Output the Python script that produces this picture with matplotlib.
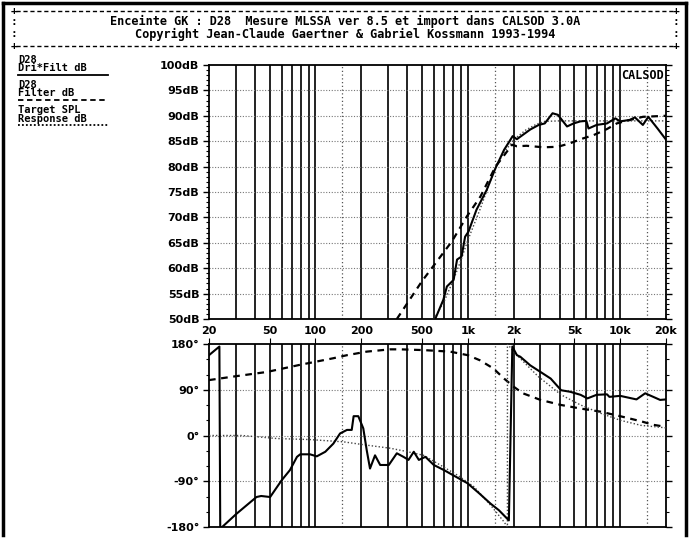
import matplotlib
matplotlib.use("Agg")
import matplotlib.pyplot as plt
from matplotlib.lines import Line2D
from matplotlib.ticker import FixedLocator, MultipleLocator, NullLocator

# --- amplitude (dB) ---
drv_freq = [611, 691, 729, 807, 850, 910, 960, 1010, 1140, 1330, 1520, 1730, 1870,
            1970, 2100, 2570, 2920, 3200, 3600, 3900, 4480, 4950, 5480, 6000, 6200,
            7000, 8200, 9300, 10000, 11600, 12500, 13000, 14100, 15300, 17600, 20000]
drv_db = [50.0, 53.8, 56.4, 57.7, 61.7, 62.3, 66.2, 67.2, 71.5, 75.4, 79.7, 83.3, 84.9,
          86.0, 85.4, 87.3, 88.2, 88.5, 90.5, 90.2, 87.9, 88.5, 88.9, 89.0, 87.5,
          88.2, 88.5, 89.5, 88.9, 89.2, 89.7, 89.2, 88.2, 89.8, 87.5, 85.3]

flt_freq = [342, 499, 787, 986, 1210, 1520, 1770, 1950, 2100, 2430, 3140, 3900, 4700,
            5500, 6700, 8200, 9500, 11000, 14100, 20000]
flt_db = [50.0, 57.4, 65.3, 70.2, 74.1, 80.0, 82.6, 84.3, 84.0, 84.1, 83.8, 83.9, 84.6,
          85.4, 86.2, 87.4, 88.5, 89.0, 89.8, 90.0]

tgt_freq = [600, 700, 800, 900, 1000, 1200, 1500, 1700, 2000, 2400, 2800, 3200, 4000, 20000]
tgt_db = [50.0, 53.5, 57.5, 61.5, 65.5, 71.5, 79.5, 82.5, 85.3, 87.2, 88.3, 88.9, 89.0, 89.0]

# --- phase (deg) ---
drv_ph_freq = [20, 23.4, 23.7, 24.4, 30.3, 41, 44, 50.4, 60, 68, 75.6, 79.4, 92, 102, 116,
               131, 145, 161, 173, 178, 191, 206, 217, 228, 246, 266, 303, 342, 378, 408,
               442, 477, 527, 598, 697, 833, 996, 1190, 1410, 1600, 1860, 1960, 2100,
               2210, 2570, 3000, 3500, 4100, 4700, 5500, 6100, 7000, 8200, 8500, 10000,
               12800, 14600, 16500, 18300, 20000]
drv_ph = [158, 175, -180, -180, -154, -121, -119, -121, -88, -68, -42, -37, -37, -41, -32,
          -16, 4, 11, 11, 38, 38, 14, -29, -65, -39, -58, -58, -35, -42, -48,
          -32, -48, -42, -58, -68, -81, -94, -114, -134, -147, -167, 175, 158,
          155, 138, 125, 112, 89, 86, 80, 73, 80, 81, 76, 78,
          71, 83, 76, 70, 71]

flt_ph_freq = [20, 29, 48, 79, 131, 161, 217, 309, 359, 513, 765, 1000, 1200, 1470, 1730,
               2000, 2300, 3000, 4100, 5500, 7400, 10000, 13700, 16500, 20000]
flt_ph = [109, 116, 125, 139, 152, 158, 165, 169.5, 169.5, 168, 165, 158, 148, 132, 112,
          96, 83, 70, 60, 53, 47, 38, 28, 21, 17]

tgt_ph_freq = [20, 33, 56, 92, 153, 217, 309, 390, 513, 855, 1100, 1410, 1730, 1820, 1820,
               2000, 2200, 2900, 4100, 5500, 7400, 10000, 13700, 20000]
tgt_ph = [0, 0, -6, -8, -12.5, -19, -25, -31, -39, -78, -101, -137, -170, -180, 180,
          165, 152, 116, 80, 60, 44, 30, 20, 15]

freq_ticks = [20, 50, 100, 200, 500, 1000, 2000, 5000, 10000, 20000]
freq_labels = ["20", "50", "100", "200", "500", "1k", "2k", "5k", "10k", "20k"]
db_ticks = list(range(50, 101, 5))
ph_ticks = [-180, -90, 0, 90, 180]

W, H = 689, 538
MONO = "DejaVu Sans Mono"


def fx(x):
    return x / W


def fy(y):
    return 1 - y / H


fig = plt.figure(figsize=(W / 100, H / 100), dpi=100)
fig.patch.set_facecolor("white")

ax1 = fig.add_axes([fx(209), fy(319), 457 / W, 254 / H])
ax2 = fig.add_axes([fx(209), fy(527), 457 / W, 183 / H])

solid_grid = [m * 10 ** e for e in (1, 2, 3) for m in range(1, 10)] + [10000]
solid_grid = [f for f in solid_grid if 20 < f < 20000]
dotted_grid = [150, 1500, 15000]

for ax in (ax1, ax2):
    ax.set_xscale("log")
    ax.set_xlim(20, 20000)
    ax.xaxis.set_major_locator(FixedLocator(freq_ticks))
    ax.xaxis.set_minor_locator(NullLocator())
    for f in solid_grid:
        ax.axvline(f, color="#111111", lw=1.3, zorder=1)
    for f in dotted_grid:
        ax.axvline(f, color="#555555", lw=0.9, ls=(0, (1, 2)), zorder=1)
    for s in ax.spines.values():
        s.set_linewidth(1.3)
        s.set_color("black")

# amplitude panel
ax1.set_ylim(50, 100)
ax1.yaxis.set_major_locator(FixedLocator(db_ticks))
ax1.yaxis.set_minor_locator(MultipleLocator(1))
ax1.set_yticklabels([f"{v}dB" for v in db_ticks])
for v in db_ticks[1:-1]:
    ax1.axhline(v, color="#777777", lw=0.8, ls=(0, (1, 1.5)), zorder=1)
ax1.set_xticklabels(freq_labels)
ax1.tick_params(axis="x", length=0, pad=5)
ax1.tick_params(axis="y", which="both", direction="out", left=True, right=True, pad=3)
ax1.tick_params(axis="y", which="major", length=4, width=1)
ax1.tick_params(axis="y", which="minor", length=2.5, width=0.8)

ax1.plot(drv_freq, drv_db, color="black", lw=1.5, zorder=4)
ax1.plot(flt_freq, flt_db, color="black", lw=1.6, ls=(0, (3, 2.5)), zorder=3)
ax1.plot(tgt_freq, tgt_db, color="#444444", lw=1.0, ls=(0, (1, 1.5)), zorder=3)
ax1.text(0.995, 0.985, "CALSOD", transform=ax1.transAxes, ha="right", va="top",
         family=MONO, fontweight="bold", fontsize=8.5)

# phase panel
ax2.set_ylim(-180, 180)
ax2.yaxis.set_major_locator(FixedLocator(ph_ticks))
ax2.yaxis.set_minor_locator(MultipleLocator(30))
ax2.set_yticklabels([f"{v}\u00b0" for v in ph_ticks])
for v in ph_ticks[1:-1]:
    ax2.axhline(v, color="#777777", lw=0.8, ls=(0, (1, 1.5)), zorder=1)
ax2.tick_params(axis="x", top=True, bottom=False, labelbottom=False, length=4,
                direction="out")
ax2.tick_params(axis="y", which="both", direction="out", left=True, right=True, pad=3)
ax2.tick_params(axis="y", which="major", length=4, width=1)
ax2.tick_params(axis="y", which="minor", length=2.5, width=0.8)

ax2.plot(drv_ph_freq, drv_ph, color="black", lw=1.5, zorder=4)
ax2.plot(flt_ph_freq, flt_ph, color="black", lw=1.6, ls=(0, (3, 2.5)), zorder=3)
ax2.plot(tgt_ph_freq, tgt_ph, color="#444444", lw=1.0, ls=(0, (1, 1.5)), zorder=3)

for ax in (ax1, ax2):
    for lab in ax.get_xticklabels() + ax.get_yticklabels():
        lab.set_fontweight("bold")
        lab.set_fontsize(8)

# outer frame
for xs, ys in (([3, 3], [3, 535]), ([3, 686], [3, 3]), ([686, 686], [3, 535])):
    fig.add_artist(Line2D([fx(x) for x in xs], [fy(y) for y in ys], color="black", lw=2.5))

# title box drawn text-mode style
for y in (11, 46):
    fig.add_artist(Line2D([fx(16), fx(674)], [fy(y), fy(y)], color="black", lw=1,
                          ls=(0, (3, 2))))
    for x in (14, 676):
        fig.text(fx(x), fy(y), "+", ha="center", va="center", family=MONO,
                 fontweight="bold", fontsize=8)
for y in (22, 34):
    for x in (14, 676):
        fig.text(fx(x), fy(y), ":", ha="center", va="center", family=MONO,
                 fontweight="bold", fontsize=8)
fig.text(fx(345), fy(21.5), "Enceinte GK : D28  Mesure MLSSA ver 8.5 et import dans CALSOD 3.0A",
         ha="center", va="center", family=MONO, fontweight="bold", fontsize=8.6)
fig.text(fx(345), fy(34), "Copyright Jean-Claude Gaertner & Gabriel Kossmann 1993-1994",
         ha="center", va="center", family=MONO, fontweight="bold", fontsize=8.6)

# curve key on the left
key = [("D28", "Dri*Filt dB", 60, "-"),
       ("D28", "Filter dB", 85, (0, (3, 2))),
       ("Target SPL", "Response dB", 110, (0, (1, 1.2)))]
for top, bottom, y, ls in key:
    fig.text(fx(18), fy(y), top, ha="left", va="center", family=MONO,
             fontweight="bold", fontsize=7.5)
    fig.text(fx(18), fy(y + 8.5), bottom, ha="left", va="center", family=MONO,
             fontweight="bold", fontsize=7.5)
    fig.add_artist(Line2D([fx(18), fx(108)], [fy(y + 15), fy(y + 15)], color="black",
                          lw=1.3, ls=ls))

fig.savefig("out.png", dpi=100, facecolor="white")
